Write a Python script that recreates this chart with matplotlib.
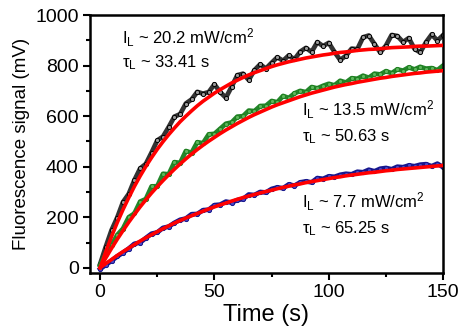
import numpy as np
import matplotlib
matplotlib.use("Agg")
import matplotlib.pyplot as plt

plt.rcParams['font.family'] = ['Liberation Sans', 'DejaVu Sans']
plt.rcParams['mathtext.fontset'] = 'custom'
plt.rcParams['mathtext.rm'] = 'Liberation Sans'
plt.rcParams['mathtext.it'] = 'Liberation Sans'

# time grid of the measured points / fit curves (s)
time = np.arange(0, 150.1, 2.5)

sig_hi = [15, 84, 149, 199, 260, 292, 347, 393, 411, 456, 504, 519, 557, 598, 608,
          650, 666, 696, 689, 695, 726, 695, 673, 716, 762, 768, 743, 782, 805, 788,
          811, 833, 819, 840, 825, 855, 870, 854, 893, 877, 890, 854, 822, 839, 867,
          865, 912, 919, 885, 852, 879, 921, 917, 893, 909, 866, 852, 892, 923, 899, 920]
sig_mid = [10, 55, 90, 130, 155, 200, 215, 262, 272, 322, 323, 372, 370, 418, 415,
           462, 455, 497, 493, 528, 530, 550, 570, 575, 598, 600, 622, 620, 640, 641,
           660, 655, 680, 672, 690, 700, 695, 715, 710, 720, 728, 722, 740, 733, 750,
           748, 760, 752, 768, 765, 778, 770, 785, 780, 793, 785, 795, 788, 790, 782, 800]
sig_lo = [-5, 12, 28, 45, 60, 76, 95, 100, 118, 135, 140, 158, 163, 178, 190,
          195, 212, 213, 228, 230, 248, 250, 262, 258, 268, 272, 290, 288, 300, 298,
          312, 318, 315, 330, 325, 338, 342, 338, 355, 352, 362, 360, 368, 372, 370,
          380, 378, 388, 382, 392, 395, 390, 400, 398, 405, 402, 408, 410, 402, 412, 398]

# fitted curves (mV)
fit_hi = [0, 64, 124, 179, 230, 277, 322, 363, 401, 436, 469, 499, 527, 553, 578,
          600, 621, 641, 659, 675, 691, 705, 718, 731, 742, 753, 763, 772, 780, 788,
          796, 803, 809, 815, 820, 825, 830, 834, 838, 842, 845, 849, 852, 854, 857,
          860, 862, 864, 865, 867, 869, 871, 872, 873, 874, 876, 877, 877, 878, 879, 880]
fit_mid = [0, 39, 77, 113, 147, 180, 211, 241, 269, 296, 321, 345, 368, 390, 411,
           431, 450, 468, 485, 501, 516, 531, 545, 558, 571, 583, 595, 606, 616, 626,
           636, 645, 653, 661, 669, 677, 684, 691, 697, 703, 709, 715, 720, 725, 729,
           734, 738, 742, 746, 750, 753, 757, 760, 763, 766, 769, 771, 774, 776, 778, 780]
fit_lo = [0, 17, 33, 49, 64, 78, 92, 106, 119, 131, 143, 155, 166, 177, 187,
          197, 206, 215, 224, 233, 241, 249, 256, 264, 271, 278, 284, 290, 296, 302,
          307, 313, 318, 323, 328, 332, 337, 341, 345, 349, 353, 357, 360, 364, 367,
          370, 373, 376, 378, 381, 384, 386, 389, 391, 393, 395, 397, 399, 401, 403, 405]

labels = [("I$_L$ ~ 20.2 mW/cm$^2$", "$\\tau_L$ ~ 33.41 s"),
          ("I$_L$ ~ 13.5 mW/cm$^2$", "$\\tau_L$ ~ 50.63 s"),
          ("I$_L$ ~ 7.7 mW/cm$^2$", "$\\tau_L$ ~ 65.25 s")]

fig = plt.figure(figsize=(4.63, 3.34), dpi=100)
ax = fig.add_axes([0.194, 0.183, 0.763, 0.772])

ax.plot(time, sig_hi, '-o', color='#333333', lw=3.4, ms=3.0, mfc='#9a9a9a', mec='black', mew=0.7)
ax.plot(time, sig_mid, '-o', color='#23862a', lw=3.4, ms=3.0, mfc='#5cb85c', mec='#1e7d1e', mew=0.7)
ax.plot(time, sig_lo, '-o', color='#18188f', lw=3.4, ms=3.0, mfc='#4848c8', mec='#14148a', mew=0.7)

for f in (fit_hi, fit_mid, fit_lo):
    ax.plot(time, f, '-', color='#ff0000', lw=2.6, zorder=5)

ax.set_xlim(-4.5, 150)
ax.set_ylim(-20, 1000)
ax.set_xticks([0, 50, 100, 150])
ax.set_xticks([25, 75, 125], minor=True)
ax.set_yticks([0, 200, 400, 600, 800, 1000])
ax.set_yticks([100, 300, 500, 700, 900], minor=True)
ax.tick_params(which='major', direction='out', length=5, width=1.5, labelsize=14, pad=3)
ax.tick_params(which='minor', direction='out', length=3, width=1.5)
for s in ax.spines.values():
    s.set_linewidth(1.8)

ax.set_xlabel("Time (s)", fontsize=17, labelpad=2)
ax.set_ylabel("Fluorescence signal (mV)", fontsize=13.5, labelpad=4)

kw = dict(fontsize=12, ha='left', va='center')
ax.text(9.6, 909, labels[0][0], **kw)
ax.text(9.6, 810, labels[0][1], **kw)
ax.text(88.3, 625, labels[1][0], **kw)
ax.text(88.3, 518, labels[1][1], **kw)
ax.text(88.3, 261, labels[2][0], **kw)
ax.text(88.3, 154, labels[2][1], **kw)

fig.savefig("out.png", dpi=100)
